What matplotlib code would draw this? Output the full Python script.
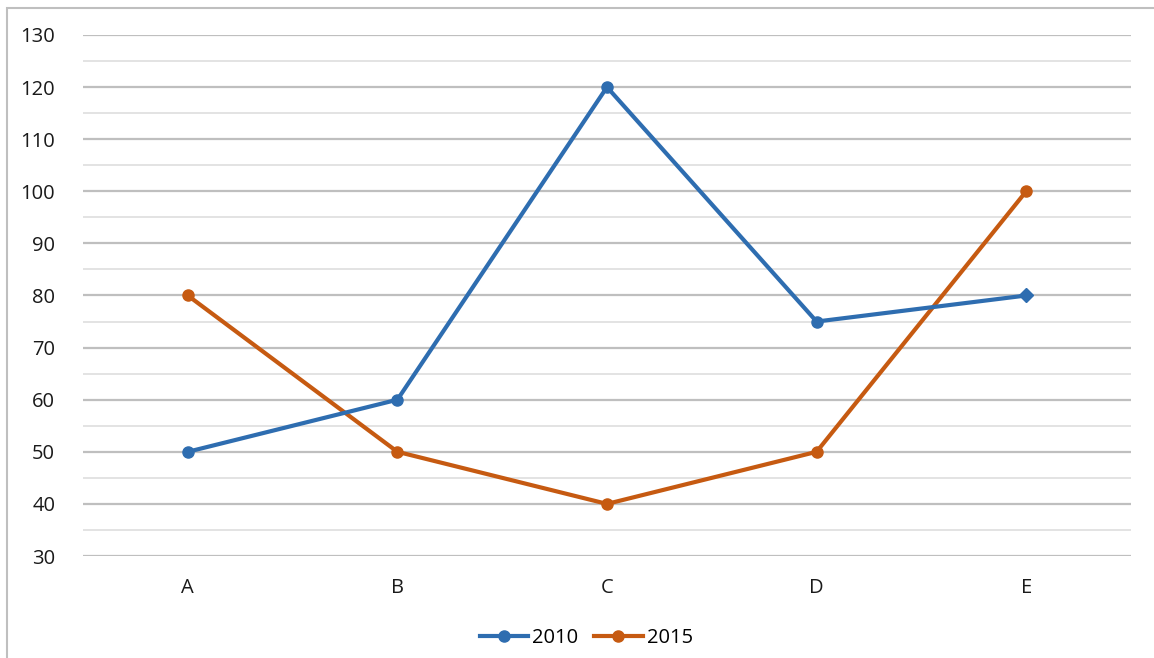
import matplotlib.pyplot as plt
from matplotlib.patches import Rectangle
from matplotlib.lines import Line2D

# data
categories = ["A", "B", "C", "D", "E"]
values_2010 = [50, 60, 120, 75, 80]
values_2015 = [80, 50, 40, 50, 100]

blue = "#2E6DB0"
orange = "#C65A11"

plt.rcParams["font.family"] = ["Open Sans", "DejaVu Sans"]

fig = plt.figure(figsize=(11.54, 6.58), dpi=100)

# outer chart frame
fig.patches.append(Rectangle((7 / 1154, -0.01), 1.2, 1 - 8 / 658 + 0.01,
                             transform=fig.transFigure, fill=False,
                             edgecolor="#BFBFBF", linewidth=1.5, zorder=1))

ax = fig.add_axes([83 / 1154, 1 - 556 / 658, (1131 - 83) / 1154, (556 - 35) / 658])
ax.patch.set_alpha(0)

x = list(range(len(categories)))

ax.plot(x, values_2010, color=blue, linewidth=3, marker="o", markersize=8,
        markevery=[0, 1, 2, 3], zorder=4)
ax.plot(x[-1], values_2010[-1], color=blue, marker="D", markersize=7, zorder=4)
ax.plot(x, values_2015, color=orange, linewidth=3, marker="o", markersize=8, zorder=3)

ax.set_xlim(-0.5, 4.5)
ax.set_ylim(30, 130)
ax.set_xticks(x)
ax.set_xticklabels(categories)
ax.set_yticks(range(30, 131, 10))
ax.set_yticks(range(35, 130, 10), minor=True)

ax.grid(axis="y", which="major", color="#BFBFBF", linewidth=1.6)
ax.grid(axis="y", which="minor", color="#E3E3E3", linewidth=1.4)
ax.set_axisbelow(True)

for s in ax.spines.values():
    s.set_visible(False)

ax.tick_params(axis="both", which="both", length=0, labelsize=14.5, colors="#1A1A1A")
ax.tick_params(axis="y", pad=20)
ax.tick_params(axis="x", pad=16)

handles = [Line2D([], [], color=blue, linewidth=3, marker="o", markersize=8),
           Line2D([], [], color=orange, linewidth=3, marker="o", markersize=8)]
fig.legend(handles, ["2010", "2015"], loc="center", bbox_to_anchor=(0.508, 1 - 638 / 658),
           ncol=2, frameon=False, fontsize=14.5, handlelength=2.4, columnspacing=0.8,
           handletextpad=0.2)

fig.savefig("out.png", dpi=100)
